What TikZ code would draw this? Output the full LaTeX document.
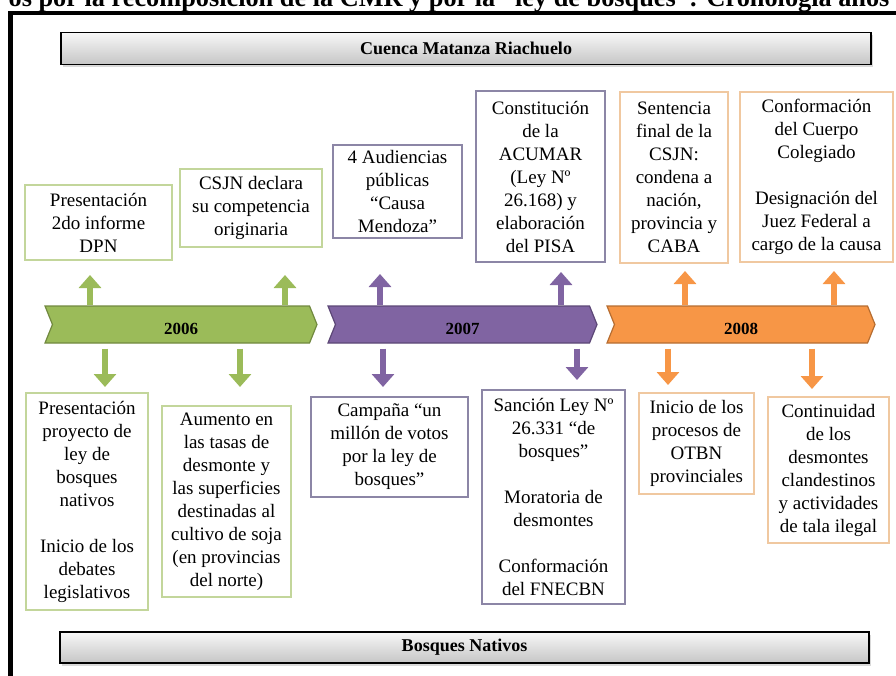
\documentclass[tikz,border=0pt]{standalone}
\usepackage{fontspec}
\setmainfont{Liberation Serif}
\usetikzlibrary{positioning,shapes.symbols,shadows,arrows.meta}
\tikzset{>={Triangle[width=22pt,length=13pt]}}
\definecolor{grn}{HTML}{9BBB59}
\definecolor{grndark}{HTML}{71893F}
\definecolor{grnbox}{HTML}{C3D69B}
\definecolor{prp}{HTML}{8064A2}
\definecolor{prpdark}{HTML}{5C4776}
\definecolor{prpbox}{HTML}{8C86A6}
\definecolor{org}{HTML}{F79646}
\definecolor{orgdark}{HTML}{B66D31}
\definecolor{orgbox}{HTML}{F0C8A0}
\tikzset{
  event/.style={draw,line width=1.2pt,align=center,inner sep=0pt,
    font=\fontsize{19}{23}\selectfont},
  yearbar/.style={signal,signal from=west,signal to=east,signal pointer angle=136,
    minimum height=37pt,line width=1.2pt,inner sep=0pt,text height=20pt,
    font=\bfseries\fontsize{17}{20}\selectfont},
  banner/.style={draw,line width=1.2pt,top color=gray!6,bottom color=gray!45,
    minimum height=32pt,inner sep=0pt,font=\bfseries\fontsize{18}{20}\selectfont,
    drop shadow={opacity=0.3,shadow xshift=2pt,shadow yshift=-3pt}},
  arr/.style={->,line width=6pt},
}
\def\uparr#1#2#3{
  \draw [arr,#1] (#2 |- #3.north) -- (#2);
}
\def\downarr#1#2#3{
  \draw [arr,#1,shorten <=5pt] (#2 |- #3.south) -- (#2);
}

\begin{document}
\begin{tikzpicture}[x=1pt,y=-1pt]
\useasboundingbox (0,0) rectangle (896,676);
\clip (0,0) rectangle (896,676);
\draw [line width=4.5pt] (10.5,13) rectangle (1000,1000);
\node [anchor=base east,font=\bfseries\fontsize{26.3}{30}\selectfont] (title) at (893,7)
  {os por la recomposición de la CMR y por la “ley de bosques”: Cronología años};
% banners
\node [banner,minimum width=810pt] (cmr) at (466,48.5) {Cuenca Matanza Riachuelo};
\node [banner,minimum width=809pt,minimum height=31pt] (bn) at (464.5,647.5) {Bosques Nativos};
% years
\node [yearbar,fill=grn,draw=grndark,minimum width=272pt] (y06) at (181,324.5) {2006};
\node [yearbar,fill=prp,draw=prpdark,minimum width=269pt] (y07) at (462.5,324.5) {2007};
\node [yearbar,fill=org,draw=orgdark,minimum width=268pt] (y08) at (741,324.5) {2008};
% events above
\node [event,draw=grnbox,minimum width=147pt,minimum height=75pt] (t1) at (98.5,222.5)
  {Presentación\\2do informe\\DPN};
\node [event,draw=grnbox,minimum width=142pt,minimum height=78pt] (t2) at (251,208)
  {CSJN declara\\su competencia\\originaria};
\node [event,draw=prpbox,minimum width=129pt,minimum height=93pt] (t3) at (397.5,191.5)
  {4 Audiencias\\públicas\\“Causa\\Mendoza”};
\node [event,draw=prpbox,minimum width=129pt,minimum height=171pt] (t4) at (540.5,176.5)
  {Constitución\\de la\\ACUMAR\\(Ley Nº\\26.168) y\\elaboración\\del PISA};
\node [event,draw=orgbox,minimum width=108pt,minimum height=171pt] (t5) at (674,177.5)
  {Sentencia\\final de la\\CSJN:\\condena a\\nación,\\provincia y\\CABA};
\node [event,draw=orgbox,minimum width=153pt,minimum height=170pt] (t6) at (816.5,177)
  {Conformación\\del Cuerpo\\Colegiado\\[23pt]Designación del\\Juez Federal a\\cargo de la causa};
% events below
\node [event,draw=grnbox,minimum width=122pt,minimum height=217pt] (b1) at (87,501.5)
  {Presentación\\proyecto de\\ley de\\bosques\\nativos\\[23pt]Inicio de los\\debates\\legislativos};
\node [event,draw=grnbox,minimum width=129pt,minimum height=191pt] (b2) at (226.5,501.5)
  {Aumento en\\las tasas de\\desmonte y\\las superficies\\destinadas al\\cultivo de soja\\(en provincias\\del norte)};
\node [event,draw=prpbox,minimum width=157pt,minimum height=100pt] (b3) at (389.5,447)
  {Campaña “un\\millón de votos\\por la ley de\\bosques”};
\node [event,draw=prpbox,minimum width=143pt,minimum height=214pt] (b4) at (553.5,497)
  {Sanción Ley Nº\\26.331 “de\\bosques”\\[23pt]Moratoria de\\desmontes\\[23pt]Conformación\\del FNECBN};
\node [event,draw=orgbox,minimum width=115pt,minimum height=101pt] (b5) at (696.5,443.5)
  {Inicio de los\\procesos de\\OTBN\\provinciales};
\node [event,draw=orgbox,minimum width=121pt,minimum height=146pt] (b6) at (828.5,470)
  {Continuidad\\de los\\desmontes\\clandestinos\\y actividades\\de tala ilegal};
% arrow ends
\coordinate (u1) at (90,275);
\coordinate (u2) at (285,275);
\coordinate (u3) at (380,274);
\coordinate (u4) at (561,272);
\coordinate (u5) at (685,271);
\coordinate (u6) at (834,271);
\coordinate (d1) at (105,387);
\coordinate (d2) at (240,387);
\coordinate (d3) at (383,387);
\coordinate (d4) at (577,380);
\coordinate (d5) at (668,385);
\coordinate (d6) at (812,389);
\uparr{grn}{u1}{y06}
\uparr{grn}{u2}{y06}
\uparr{prp}{u3}{y07}
\uparr{prp}{u4}{y07}
\uparr{org}{u5}{y08}
\uparr{org}{u6}{y08}
\downarr{grn}{d1}{y06}
\downarr{grn}{d2}{y06}
\downarr{prp}{d3}{y07}
\downarr{prp}{d4}{y07}
\downarr{org}{d5}{y08}
\downarr{org}{d6}{y08}
\end{tikzpicture}
\end{document}
